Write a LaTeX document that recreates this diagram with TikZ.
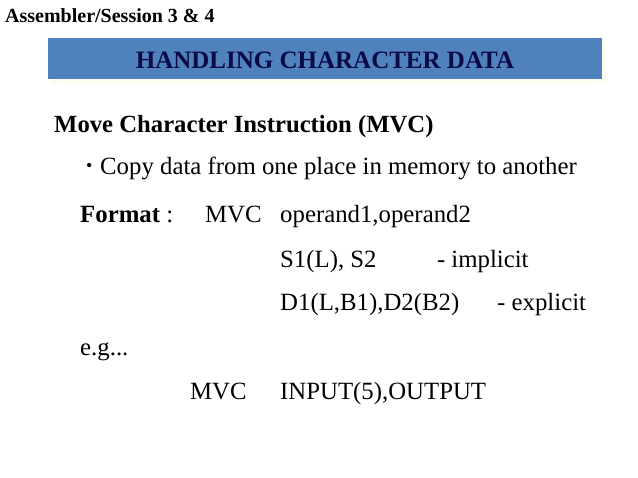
\documentclass[tikz,border=0pt]{standalone}
\usepackage{fontspec}
\setmainfont{Liberation Serif}
\begin{document}
\begin{tikzpicture}[x=1pt,y=-1pt,
  t/.style={anchor=base west,inner sep=0pt,font=\fontsize{24.8}{28}\selectfont}]
\useasboundingbox[fill=white] (0,0) rectangle (638,478);
\fill[black!12!yellow!8] (52,42) rectangle (606,83);
\fill[fill={rgb,255:red,79;green,129;blue,189}] (48,38) rectangle (602,79);
\node[inner sep=0pt,anchor=base west,font=\bfseries\fontsize{20}{24}\selectfont] (hdr) at (5,23) {Assembler/Session 3 \& 4};
\node[inner sep=0pt,font=\bfseries\fontsize{25}{28}\selectfont,text={rgb,255:red,10;green,10;blue,70}] (ban) at (325,60) {HANDLING CHARACTER DATA};
\node[t,font=\bfseries\fontsize{24.7}{28}\selectfont] (mv) at (54,133) {Move Character Instruction (MVC)};
\node[t,font=\fontsize{18}{20}\selectfont] (b) at (86,172) {\textbullet};
\node[t] (cp) at (100,175) {Copy data from one place in memory to another};
\node[t] (f) at (80,223) {\textbf{Format} :};
\node[t] (f2) at (205,223) {MVC};
\node[t] (f3) at (280,223) {operand1,operand2};
\node[t] (s1) at (280,268) {S1(L), S2};
\node[t] (s2) at (437,268) {-\hspace{6pt}implicit};
\node[t] (d1) at (280,311) {D1(L,B1),D2(B2)};
\node[t] (d2) at (497,311) {- explicit};
\node[t] (eg) at (80,356) {e.g...};
\node[t] (m1) at (190,400) {MVC};
\node[t] (m2) at (280,400) {INPUT(5),OUTPUT};
\end{tikzpicture}
\end{document}
